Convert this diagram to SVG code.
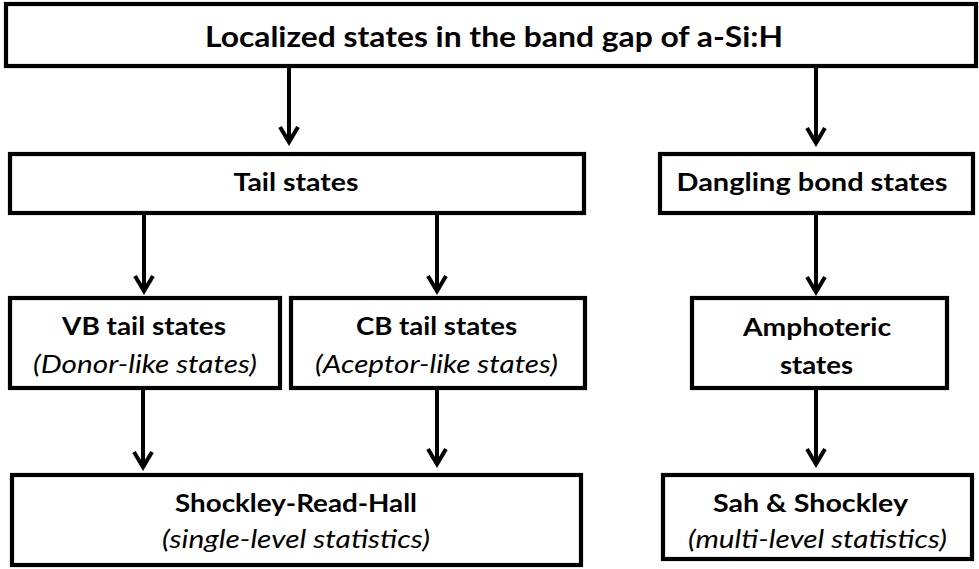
<svg xmlns="http://www.w3.org/2000/svg" width="979" height="569" viewBox="0 0 979 569">
<defs>
<style>
.box{fill:#fff;stroke:#000;stroke-width:4.2}
.b{font-family:Lato,"Open Sans","Liberation Sans",sans-serif;font-weight:bold;font-size:25px;fill:#000;text-anchor:middle}
.t{font-size:28.5px}
.i{font-family:Lato,"Open Sans","Liberation Sans",sans-serif;font-style:italic;font-size:25.5px;fill:#000;text-anchor:middle}
.c{stroke:#000;stroke-width:4;fill:none}
</style>
<marker id="ah" markerUnits="userSpaceOnUse" viewBox="-20 -14 26 28" markerWidth="26" markerHeight="28" refX="0" refY="0" orient="auto" overflow="visible">
<path d="M-15,-9 L0,0 L-15,9" fill="none" stroke="#000" stroke-width="4"/>
</marker>
</defs>
<rect width="979" height="569" fill="#fff"/>
<g id="connectors" class="c">
<line x1="289" y1="66" x2="289" y2="142" marker-end="url(#ah)"/>
<line x1="816" y1="66" x2="816" y2="143" marker-end="url(#ah)"/>
<line x1="144" y1="213" x2="144" y2="291" marker-end="url(#ah)"/>
<line x1="437" y1="213" x2="437" y2="291" marker-end="url(#ah)"/>
<line x1="816" y1="213" x2="816" y2="292" marker-end="url(#ah)"/>
<line x1="143" y1="388" x2="143" y2="467" marker-end="url(#ah)"/>
<line x1="437" y1="388" x2="437" y2="464" marker-end="url(#ah)"/>
<line x1="816" y1="388" x2="816" y2="464" marker-end="url(#ah)"/>
</g>
<g id="root">
<rect class="box" x="6" y="4" width="970" height="62"/>
<text class="b t" x="494" y="47" textLength="578" lengthAdjust="spacingAndGlyphs">Localized states in the band gap of a-Si:H</text>
</g>
<g id="tail">
<rect class="box" x="10" y="154" width="574" height="59"/>
<text class="b" x="296" y="191" textLength="125" lengthAdjust="spacingAndGlyphs">Tail states</text>
</g>
<g id="dangling">
<rect class="box" x="660" y="154" width="313" height="59"/>
<text class="b" x="812" y="191" textLength="271" lengthAdjust="spacingAndGlyphs">Dangling bond states</text>
</g>
<g id="vb">
<rect class="box" x="10" y="298" width="270" height="90"/>
<text class="b" x="144" y="335" textLength="164" lengthAdjust="spacingAndGlyphs">VB tail states</text>
<text class="i" x="145" y="373" textLength="224" lengthAdjust="spacingAndGlyphs">(Donor-like states)</text>
</g>
<g id="cb">
<rect class="box" x="291" y="298" width="294" height="90"/>
<text class="b" x="436.5" y="335" textLength="161" lengthAdjust="spacingAndGlyphs">CB tail states</text>
<text class="i" x="436.5" y="373" textLength="243" lengthAdjust="spacingAndGlyphs">(Aceptor-like states)</text>
</g>
<g id="amphoteric">
<rect class="box" x="692" y="298" width="255" height="90"/>
<text class="b" x="817" y="336" textLength="148" lengthAdjust="spacingAndGlyphs">Amphoteric</text>
<text class="b" x="816.5" y="374" textLength="73" lengthAdjust="spacingAndGlyphs">states</text>
</g>
<g id="srh">
<rect class="box" x="12" y="475" width="569" height="90"/>
<text class="b" x="296" y="512" textLength="242" lengthAdjust="spacingAndGlyphs">Shockley-Read-Hall</text>
<text class="i" x="296" y="548" textLength="268" lengthAdjust="spacingAndGlyphs">(single-level statistics)</text>
</g>
<g id="sah">
<rect class="box" x="663" y="475" width="309" height="84"/>
<text class="b" x="810.5" y="512" textLength="195" lengthAdjust="spacingAndGlyphs">Sah &amp; Shockley</text>
<text class="i" x="817.5" y="548" textLength="259" lengthAdjust="spacingAndGlyphs">(multi-level statistics)</text>
</g>
</svg>
